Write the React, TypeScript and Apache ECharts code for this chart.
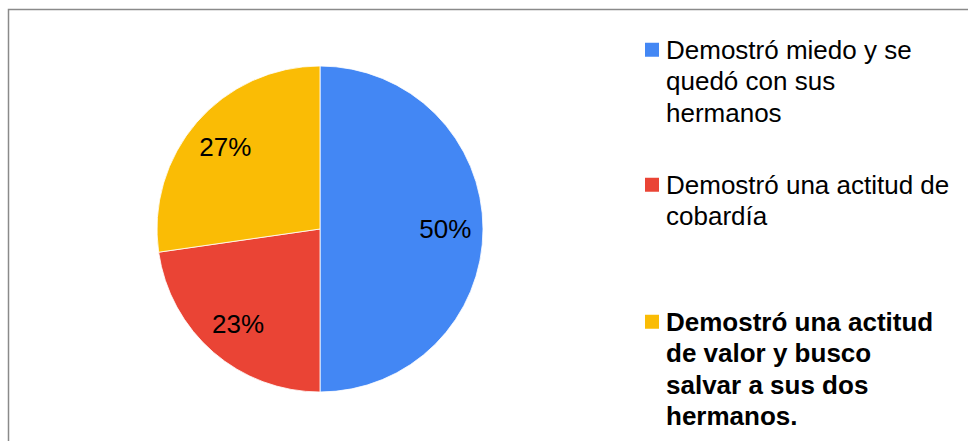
import React, { useEffect, useRef } from "react";
import * as echarts from "echarts";

const categories = [
  "Demostró miedo y se quedó con sus hermanos",
  "Demostró una actitud de cobardía",
  "Demostró una actitud de valor y busco salvar a sus dos hermanos.",
];
const legendLines = [
  ["Demostró miedo y se", "quedó con sus", "hermanos"],
  ["Demostró una actitud de", "cobardía"],
  ["Demostró una actitud", "de valor y busco", "salvar a sus dos", "hermanos."],
];
const legendBold = [false, false, true];
const values = [11, 5, 6];
const colors = ["#4387F4", "#EA4435", "#FABC05"];

const FONT = "'Liberation Sans', Arial, sans-serif";

export default function App() {
  const ref = useRef<HTMLDivElement>(null);
  useEffect(() => {
    if (!ref.current) return;
    const chart = echarts.init(ref.current, undefined, { renderer: "svg" });
    const cx = 320;
    const cy = 229;
    const R = 163;
    const legendTops = [34, 169, 306];
    const lineH = 31.5;
    const graphic: any[] = [
      {
        type: "rect",
        shape: { x: 8.5, y: 9.5, width: 1200, height: 1200 },
        style: { fill: "none", stroke: "#8a8a8a", lineWidth: 1.5 },
        silent: true,
      },
    ];
    legendLines.forEach((lines, i) => {
      graphic.push({
        type: "rect",
        shape: { x: 645, y: legendTops[i] + lineH / 2 - 7, width: 14, height: 14 },
        style: { fill: colors[i] },
      });
      graphic.push({
        type: "text",
        x: 666,
        y: legendTops[i],
        style: {
          text: lines.join("\n"),
          font: `${legendBold[i] ? "bold " : ""}26px ${FONT}`,
          lineHeight: lineH,
          fill: "#000",
          verticalAlign: "top",
          align: "left",
        },
      });
    });
    const data = categories.map((name, i) => ({
      name,
      value: values[i],
      itemStyle: { color: colors[i] },
    }));
    chart.setOption({
      animation: false,
      backgroundColor: "#fff",
      graphic,
      series: [
        {
          type: "pie",
          center: [cx, cy],
          radius: [0, R],
          startAngle: 90,
          clockwise: true,
          data,
          label: { show: false },
          labelLine: { show: false },
          itemStyle: { borderColor: "#fff", borderWidth: 0.8 },
          silent: true,
        },
        {
          type: "pie",
          center: [cx, cy],
          radius: [R * 0.5, R],
          startAngle: 90,
          clockwise: true,
          percentPrecision: 0,
          data: categories.map((name, i) => ({ name, value: values[i] })),
          itemStyle: { color: "rgba(0,0,0,0)" },
          label: {
            show: true,
            position: "inside",
            formatter: "{d}%",
            fontFamily: FONT,
            fontSize: 26,
            color: "#000",
          },
          labelLine: { show: false },
          silent: true,
        },
      ],
    });
    return () => chart.dispose();
  }, []);
  return (
    <div
      ref={ref}
      style={{ position: "fixed", left: 0, top: 0, width: 968, height: 441 }}
    />
  );
}
